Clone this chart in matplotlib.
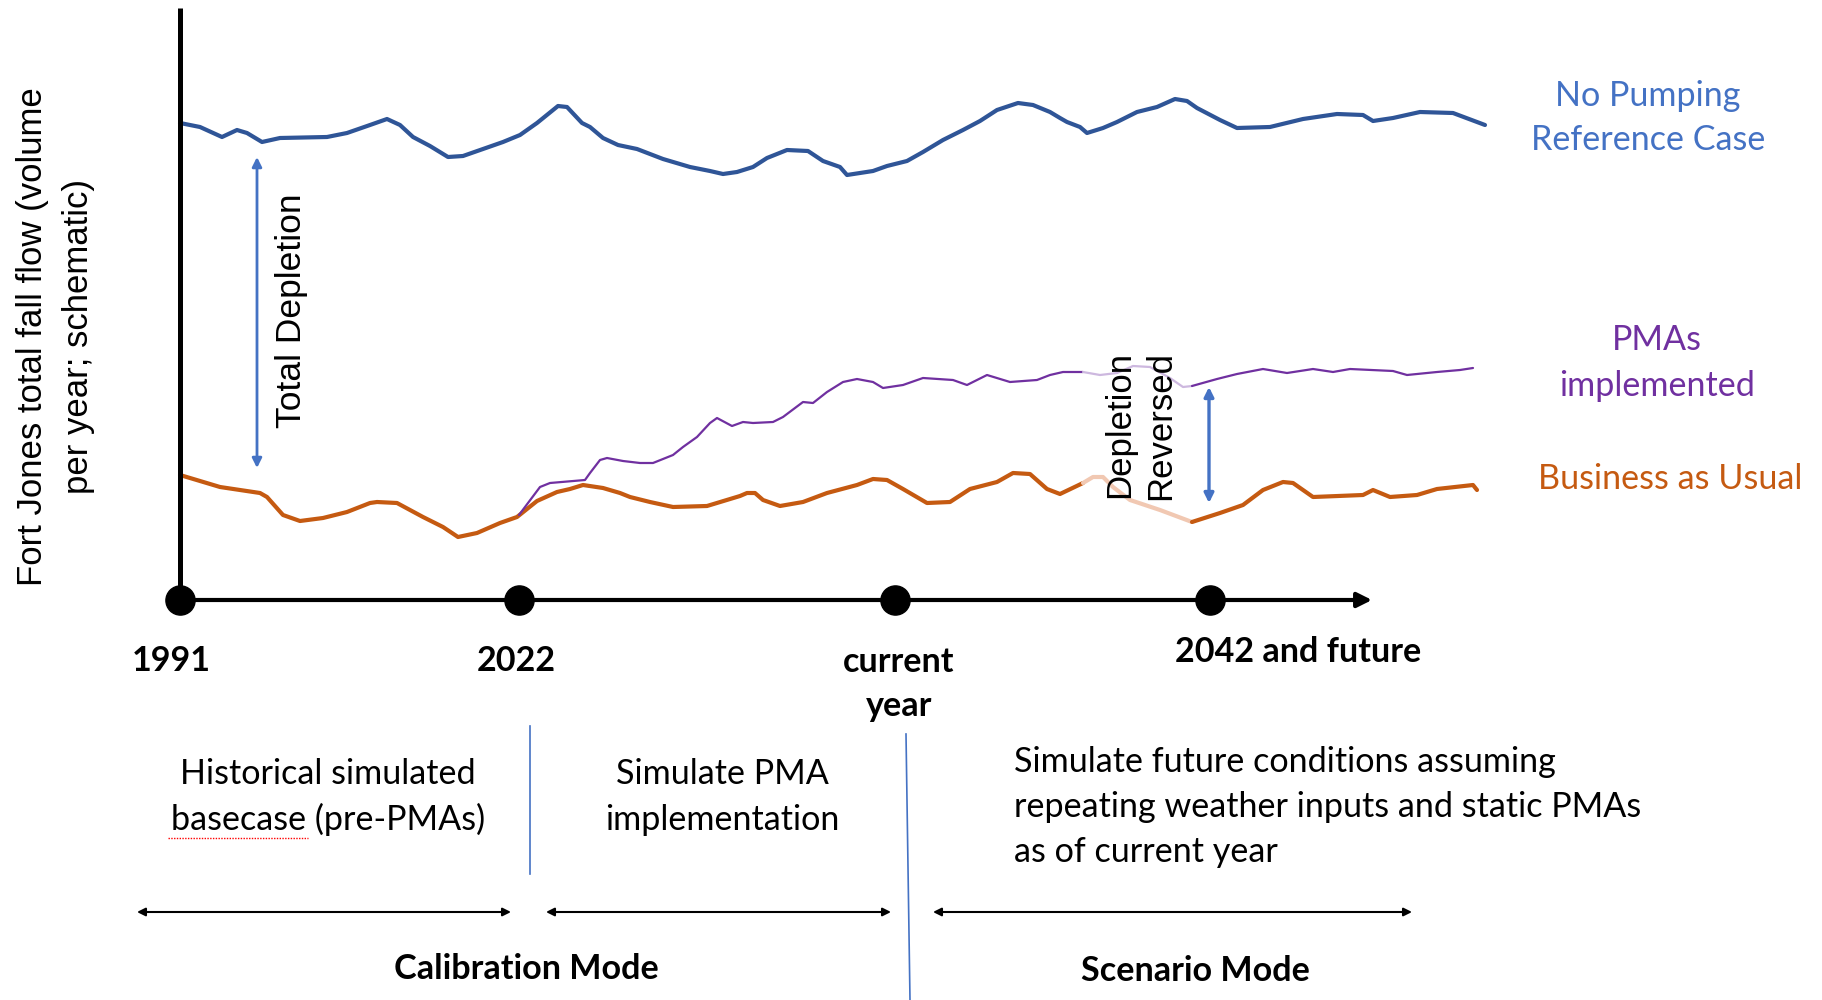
import matplotlib.pyplot as plt

plt.rcParams["font.family"] = ["Liberation Sans", "DejaVu Sans"]

# schematic time axis: where each milestone sits and what it is called
stop_pos = [180, 519, 895, 1210]
stop_labels = ["1991", "2022", "current\nyear", "2042 and future"]

# No Pumping Reference Case (flow above the time axis, schematic units)
ref_t = [180, 200, 222, 237, 247, 262, 280, 327, 347, 370,
         387, 400, 413, 430, 448, 463, 483, 503, 520, 537,
         558, 567, 582, 590, 603, 618, 637, 663, 690, 710,
         723, 737, 753, 767, 787, 808, 823, 840, 847, 873,
         887, 907, 923, 943, 963, 980, 997, 1018, 1033, 1050,
         1060, 1067, 1080, 1087, 1103, 1117, 1137, 1157, 1175, 1187,
         1197, 1220, 1237, 1270, 1303, 1337, 1363, 1373, 1393, 1420,
         1453, 1485]
ref_flow = [477, 473, 463, 470, 467, 458, 462, 463, 467, 475,
            481, 475, 463, 454, 443, 444, 451, 458, 465, 477,
            494, 493, 477, 473, 462, 455, 451, 441, 433, 429,
            426, 428, 433, 442, 450, 449, 439, 433, 425, 429,
            434, 439, 448, 460, 470, 479, 490, 497, 495, 488,
            482, 478, 473, 467, 472, 478, 488, 493, 501, 499,
            492, 480, 472, 473, 481, 486, 485, 479, 482, 488,
            487, 475]

# Business as Usual
bau_t = [180, 220, 260, 267, 283, 300, 323, 347, 370, 377,
         397, 423, 443, 458, 477, 500, 517, 537, 557, 570,
         583, 603, 620, 630, 650, 673, 707, 740, 747, 755,
         763, 780, 803, 827, 857, 873, 887, 903, 927, 950,
         970, 997, 1013, 1030, 1047, 1060, 1083, 1093, 1103, 1113,
         1130, 1160, 1192, 1220, 1243, 1263, 1283, 1293, 1313, 1363,
         1373, 1390, 1417, 1437, 1473, 1477]
bau_flow = [125, 113, 107, 103, 85, 79, 82, 88, 97, 98,
            97, 83, 73, 63, 67, 77, 83, 99, 108, 111,
            115, 112, 107, 103, 98, 93, 94, 104, 107, 107,
            100, 94, 98, 107, 115, 121, 120, 111, 97, 98,
            111, 118, 127, 126, 111, 106, 117, 123, 123, 113,
            100, 90, 78, 87, 95, 110, 118, 117, 103, 105,
            110, 103, 105, 111, 115, 110]

# PMAs implemented
pma_t = [519, 540, 550, 585, 590, 600, 607, 623, 640, 653,
         673, 683, 697, 710, 717, 732, 743, 753, 773, 783,
         803, 813, 827, 843, 857, 873, 883, 903, 923, 953,
         967, 987, 1010, 1037, 1050, 1063, 1083, 1100, 1117, 1133,
         1150, 1170, 1183, 1192, 1217, 1237, 1263, 1287, 1313, 1333,
         1350, 1393, 1407, 1437, 1460, 1473]
pma_flow = [85, 113, 117, 120, 127, 140, 142, 139, 137, 137,
            145, 153, 163, 177, 182, 174, 178, 177, 178, 183,
            198, 197, 208, 218, 221, 218, 212, 215, 222, 220,
            215, 225, 218, 220, 225, 228, 228, 225, 227, 234,
            233, 222, 213, 214, 221, 226, 231, 227, 231, 228,
            231, 229, 225, 228, 230, 232]

# stretch behind the "Depletion Reversed" label is drawn washed out
GAP = (1083, 1192)

BLUE = "#2F5597"
LIGHT_BLUE = "#4472C4"
ORANGE = "#C55A11"
PURPLE = "#7030A0"
CAL = ["Lato", "DejaVu Sans"]
CAL_SIZE = 24.6
LS = 1.5

fig = plt.figure(figsize=(18.22, 10), dpi=100)
ax = fig.add_axes([0, 0, 1, 1])
ax.set_xlim(0, 1822)
ax.set_ylim(-400, 600)
ax.axis("off")


def split_plot(t, v, color, lw, faded):
    seg1 = [(a, b) for a, b in zip(t, v) if a <= GAP[0]]
    gap = [(a, b) for a, b in zip(t, v) if GAP[0] <= a <= GAP[1]]
    seg2 = [(a, b) for a, b in zip(t, v) if a >= GAP[1]]
    for seg, c in ((seg1, color), (gap, faded), (seg2, color)):
        if seg:
            xs, ys = zip(*seg)
            ax.plot(xs, ys, color=c, lw=lw, solid_capstyle="round",
                    solid_joinstyle="round")


ax.plot(ref_t, ref_flow, color=BLUE, lw=3.0, solid_capstyle="round",
        solid_joinstyle="round")
split_plot(bau_t, bau_flow, ORANGE, 3.0, "#F1C8B2")
split_plot(pma_t, pma_flow, PURPLE, 1.6, "#CDB8DF")

# axes of the schematic
ax.plot([180, 180], [0, 592], color="black", lw=3.6, solid_capstyle="butt")
ax.annotate("", xy=(1372, 0), xytext=(180, 0),
            arrowprops=dict(arrowstyle="-|>", lw=3.0, color="black",
                            mutation_scale=22, shrinkA=0, shrinkB=0))
ax.plot(stop_pos, [0] * len(stop_pos), "o", ms=21, color="black")

label_y = [-61, -61, -84, -52]
label_dx = [-9, -3, 4, 88]
for x, dx, lab, y in zip(stop_pos, label_dx, stop_labels, label_y):
    ax.text(x + dx, y, lab, ha="center", va="center", fontsize=CAL_SIZE,
            fontweight="bold", family=CAL, linespacing=LS)

# depletion arrows
ax.annotate("", xy=(257, 443), xytext=(257, 132),
            arrowprops=dict(arrowstyle="<|-|>", lw=2.0, color=LIGHT_BLUE,
                            mutation_scale=14, shrinkA=0, shrinkB=0))
ax.text(291, 289, "Total Depletion", rotation=90, ha="center", va="center",
        fontsize=25.5)
ax.annotate("", xy=(1209, 213), xytext=(1209, 97),
            arrowprops=dict(arrowstyle="<|-|>", lw=2.4, color=LIGHT_BLUE,
                            mutation_scale=14, shrinkA=0, shrinkB=0))
ax.text(1140, 175, "Depletion\nReversed", rotation=90, ha="center",
        va="center", fontsize=25, multialignment="center", linespacing=1.3)

# y axis title
ax.text(56, 263, "Fort Jones total fall flow (volume\nper year; schematic)",
        rotation=90, ha="center", va="center", fontsize=25,
        multialignment="center", linespacing=1.5)

# series names
ax.text(1648, 482, "No Pumping\nReference Case", ha="center", va="center",
        fontsize=CAL_SIZE, color=LIGHT_BLUE, family=CAL, linespacing=LS)
ax.text(1657, 237, "PMAs\nimplemented", ha="center", va="center",
        fontsize=CAL_SIZE, color=PURPLE, family=CAL, linespacing=LS)
ax.text(1670, 121, "Business as Usual", ha="center", va="center",
        fontsize=CAL_SIZE, color=ORANGE, family=CAL)

# period descriptions
ax.text(328, -197, "Historical simulated\nbasecase (pre-PMAs)", ha="center",
        va="center", fontsize=CAL_SIZE, family=CAL, linespacing=LS)
ax.plot([168, 308], [-238, -238], color="red", lw=1.0, ls=(0, (1, 1)))
ax.text(722, -197, "Simulate PMA\nimplementation", ha="center", va="center",
        fontsize=CAL_SIZE, family=CAL, linespacing=LS)
ax.text(1014, -207, "Simulate future conditions assuming\n"
        "repeating weather inputs and static PMAs\nas of current year",
        ha="left", va="center", fontsize=CAL_SIZE, family=CAL, linespacing=LS)

# dividers between periods
ax.plot([530, 530], [-126, -274], color=LIGHT_BLUE, lw=1.2)
ax.plot([906, 910], [-134, -400], color=LIGHT_BLUE, lw=1.2)

# mode spans
for x0, x1 in [(137, 511), (546, 891), (933, 1412)]:
    ax.annotate("", xy=(x1, -312), xytext=(x0, -312),
                arrowprops=dict(arrowstyle="<|-|>", lw=1.5, color="black",
                                mutation_scale=12, shrinkA=0, shrinkB=0))
ax.text(526, -369, "Calibration Mode", ha="center", va="center",
        fontsize=CAL_SIZE, fontweight="bold", family=CAL)
ax.text(1195, -371, "Scenario Mode", ha="center", va="center",
        fontsize=CAL_SIZE, fontweight="bold", family=CAL)

fig.savefig("out.png", dpi=100, facecolor="white")
